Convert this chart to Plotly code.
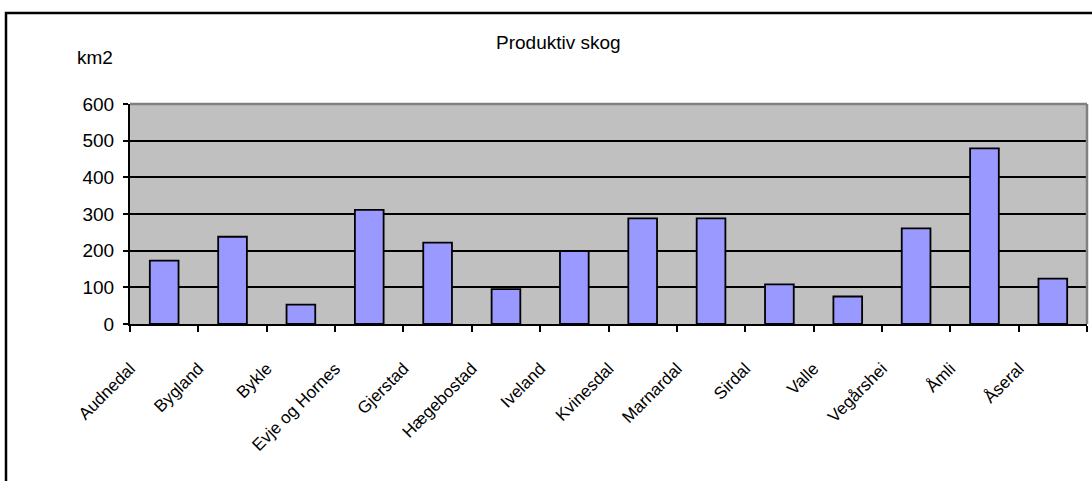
import plotly.graph_objects as go

categories = ["Audnedal", "Bygland", "Bykle", "Evje og Hornes", "Gjerstad", "Hægebostad",
              "Iveland", "Kvinesdal", "Marnardal", "Sirdal", "Valle", "Vegårshei", "Åmli", "Åseral"]
values = [173, 238, 53, 311, 222, 95, 199, 288, 288, 108, 75, 261, 479, 124]
y_ticks = [0, 100, 200, 300, 400, 500, 600]
title_text = "Produktiv skog"
unit_text = "km2"

W, H = 1092, 481
# target plot area in screenshot pixels: x 130..1087, y 104..324
L, T = 130, 104
R = W - 1087
B = H - 324
pw, ph = W - L - R, H - T - B

def px(x):
    return (x - L) / pw

def py(y):
    return (H - B - y) / ph

FONT = "Liberation Sans, Arial, sans-serif"

fig = go.Figure(go.Bar(
    x=categories, y=values,
    marker=dict(color="#9999FF", line=dict(color="black", width=1.8)),
))

fig.update_layout(
    width=W, height=H,
    margin=dict(l=L, r=R, t=T, b=B),
    paper_bgcolor="white", plot_bgcolor="#C0C0C0",
    bargap=0.58, showlegend=False,
    font=dict(family=FONT, color="black", size=18),
    xaxis=dict(
        type="category", showgrid=False, showline=True, linecolor="black", linewidth=2,
        ticks="outside", tickson="boundaries", ticklen=6, tickcolor="black", tickwidth=1.5,
        tickangle=-45, tickfont=dict(size=17, family=FONT),
        ticklabelstandoff=26, ticklabelshift=-34,
    ),
    yaxis=dict(
        range=[0, 600], tickvals=y_ticks, showgrid=True, gridcolor="black", gridwidth=1.5,
        showline=True, linecolor="black", linewidth=2, zeroline=False,
        ticks="outside", ticklen=5, tickcolor="black", tickwidth=1.5,
        tickfont=dict(size=19, family=FONT), ticklabelstandoff=5,
    ),
    shapes=[
        dict(type="line", xref="paper", yref="paper", x0=0, x1=1, y0=1, y1=1,
             line=dict(color="#808080", width=2.5), layer="above"),
        dict(type="line", xref="paper", yref="paper", x0=1, x1=1, y0=0, y1=1,
             line=dict(color="#808080", width=2.5), layer="above"),
        dict(type="rect", xref="paper", yref="paper", x0=px(6), x1=1.2, y0=-1.0, y1=py(13),
             line=dict(color="black", width=2.5), layer="above"),
    ],
    annotations=[
        dict(text=title_text, xref="paper", yref="paper", x=px(558), y=py(43),
             xanchor="center", yanchor="middle", showarrow=False, font=dict(size=19)),
        dict(text=unit_text, xref="paper", yref="paper", x=px(75), y=py(57),
             xanchor="left", yanchor="middle", showarrow=False, font=dict(size=19)),
    ],
)

fig.write_html("out.html", config={"displayModeBar": False},
               post_script="document.body.style.margin='0';")
